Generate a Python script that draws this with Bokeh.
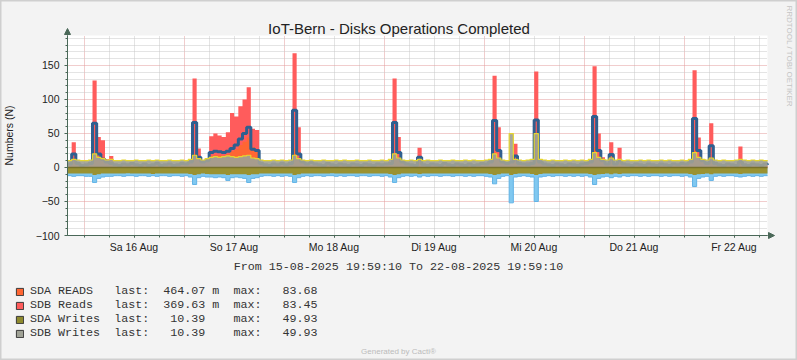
from bokeh.plotting import figure
from bokeh.models import (Range1d, FixedTicker, Label, Legend, LegendItem, Grid, LinearAxis,
                          Arrow, NormalHead, ColumnDataSource, BoxAnnotation)
from bokeh.embed import file_html
from bokeh.resources import INLINE
import math

TITLE = "IoT-Bern - Disks Operations Completed"
Y_LABEL = "Numbers (N)"
PERIOD_TEXT = "From 15-08-2025 19:59:10 To 22-08-2025 19:59:10"
FOOTER = "Generated by Cacti\u00ae"
SIDE_TEXT = "RRDTOOL / TOBI OETIKER"
DAY_LABELS = ["Sa 16 Aug", "So 17 Aug", "Mo 18 Aug", "Di 19 Aug", "Mi 20 Aug", "Do 21 Aug", "Fr 22 Aug"]
FIRST_MIDNIGHT_S = 4 * 3600 + 50       # 16-08-2025 00:00:00 after start 15-08-2025 19:59:10
SPAN_S = 7 * 24 * 3600
Y_TICKS = [-100, -50, 0, 50, 100, 150]
Y_MIN, Y_MAX = -100, 194.1

LEGEND_ROWS = [
    "SDA READS   last:  464.07 m  max:   83.68",
    "SDB Reads   last:  369.63 m  max:   83.45",
    "SDA Writes  last:   10.39    max:   49.93",
    "SDB Writes  last:   10.39    max:   49.93",
]
LEGEND_COLORS = ["#FF6633", "#FF5C5C", "#8E8A2E", "#A0A296"]

# hourly samples, hour 0 = 15-08-2025 19:59:10
SAMPLE_HOURS = list(range(169))

READS_ALL = [  # red area top (stacked reads)
    4, 37, 6, 3, 4, 8, 128, 45, 40, 12, 17, 5,
    3, 4, 3, 5, 3, 3, 4, 3, 3, 4, 3, 3,
    4, 3, 3, 4, 6, 12, 131, 28, 10, 14, 46, 50,
    47, 45, 52, 80, 75, 90, 100, 118, 57, 55, 6, 4,
    3, 4, 3, 5, 4, 8, 168, 59, 10, 5, 4, 6,
    4, 3, 4, 3, 3, 4, 3, 3, 4, 3, 3, 4,
    3, 3, 4, 3, 5, 9, 131, 45, 9, 5, 4, 3,
    29, 4, 3, 4, 3, 3, 4, 3, 3, 4, 3, 3,
    4, 3, 3, 4, 5, 8, 135, 59, 10, 6, 10, 35,
    8, 5, 8, 9, 141, 10, 5, 4, 3, 4, 3, 3,
    4, 3, 3, 4, 5, 9, 149, 50, 15, 5, 37, 6,
    29, 5, 4, 3, 4, 3, 3, 4, 3, 3, 4, 3,
    3, 4, 3, 5, 6, 10, 143, 44, 10, 6, 65, 8,
    4, 3, 4, 3, 4, 31, 5, 3, 4, 3, 4, 3, 4,
]
READS_SDA = [  # orange area top
    2, 8, 2, 1, 2, 3, 22, 10, 8, 3, 4, 2,
    1, 2, 1, 2, 1, 1, 2, 1, 1, 2, 1, 1,
    2, 1, 1, 2, 2, 4, 20, 8, 3, 5, 16, 18,
    18, 17, 20, 24, 27, 33, 38, 44, 30, 25, 2, 2,
    1, 2, 1, 2, 2, 3, 28, 10, 3, 2, 2, 2,
    2, 1, 2, 1, 1, 2, 1, 1, 2, 1, 1, 2,
    1, 1, 2, 1, 2, 3, 20, 9, 3, 2, 2, 1,
    6, 2, 1, 2, 1, 1, 2, 1, 1, 2, 1, 1,
    2, 1, 1, 2, 2, 3, 22, 10, 3, 2, 3, 6,
    3, 2, 2, 3, 20, 3, 2, 2, 1, 2, 1, 1,
    2, 1, 1, 2, 2, 3, 30, 12, 4, 2, 8, 2,
    6, 2, 2, 1, 2, 1, 1, 2, 1, 1, 2, 1,
    1, 2, 1, 2, 2, 3, 25, 10, 3, 2, 10, 3,
    2, 1, 2, 1, 2, 6, 2, 1, 2, 1, 2, 1, 2,
]
READS_LINE = [  # dark blue line
    5, 20, 6, 3, 4, 6, 65, 20, 12, 8, 6, 4,
    3, 5, 4, 6, 4, 3, 5, 3, 4, 6, 3, 4,
    5, 3, 4, 6, 5, 8, 66, 15, 8, 10, 22, 24,
    23, 22, 24, 28, 33, 42, 50, 59, 27, 25, 6, 4,
    3, 5, 4, 6, 4, 6, 84, 20, 8, 5, 7, 5,
    4, 3, 6, 4, 3, 5, 4, 3, 5, 4, 3, 5,
    4, 3, 5, 4, 5, 6, 66, 22, 8, 5, 4, 3,
    15, 4, 3, 5, 4, 3, 6, 4, 3, 5, 4, 3,
    5, 3, 4, 6, 5, 8, 69, 25, 8, 6, 8, 17,
    6, 5, 4, 6, 70, 8, 5, 4, 3, 5, 4, 3,
    5, 4, 3, 5, 6, 8, 75, 25, 10, 5, 19, 5,
    10, 5, 4, 3, 5, 4, 3, 5, 4, 3, 5, 4,
    3, 5, 4, 6, 5, 8, 72, 25, 10, 6, 32, 6,
    4, 3, 5, 4, 3, 8, 4, 3, 5, 4, 3, 5, 4,
]
WRITES = [  # grey area top / yellow line
    10, 12, 11, 10, 10, 11, 20, 15, 13, 11, 12, 10,
    10, 11, 10, 10, 11, 10, 10, 11, 10, 11, 10, 10,
    11, 10, 10, 11, 10, 12, 18, 13, 11, 13, 15, 16,
    15, 16, 17, 16, 15, 16, 17, 18, 14, 13, 11, 10,
    10, 11, 10, 11, 10, 11, 18, 13, 11, 10, 11, 10,
    10, 11, 10, 10, 11, 10, 11, 10, 10, 11, 10, 10,
    11, 10, 10, 11, 10, 12, 20, 14, 11, 10, 11, 10,
    12, 10, 11, 10, 10, 11, 10, 10, 11, 10, 10, 11,
    10, 11, 10, 10, 11, 12, 20, 14, 11, 10, 49.93, 12,
    11, 10, 11, 12, 49.93, 12, 11, 10, 11, 10, 10, 11,
    10, 11, 10, 11, 10, 12, 22, 15, 12, 11, 14, 11,
    12, 10, 11, 10, 10, 11, 10, 11, 10, 10, 11, 10,
    11, 10, 10, 11, 10, 12, 22, 15, 12, 11, 14, 11,
    10, 11, 10, 10, 11, 12, 11, 10, 11, 10, 11, 10, 10.39,
]
WRITES_NEG = [  # olive area (negative)
    -9, -9, -9, -9, -9, -9, -11, -10, -9, -9, -9, -9,
    -9, -9, -8.5, -9, -9, -9, -9, -9, -9.5, -9, -9, -9,
    -9, -9, -9, -9, -9, -9.5, -11, -10, -9, -9.5, -10, -10,
    -10, -10, -11, -10, -10, -10, -10, -11, -10, -10, -9, -9,
    -9, -9, -9, -9, -9, -9, -11, -10, -9, -9, -9, -9,
    -9, -9, -9, -8.5, -9, -9, -9, -9, -9, -9, -9, -9,
    -9, -9, -9, -9, -9, -9.5, -11, -10, -9, -9, -9, -9,
    -9.5, -9, -9, -9, -9, -9, -9, -9, -9, -9, -9, -9,
    -9, -9, -9, -9, -9, -9.5, -11, -10, -9, -9, -11, -9.5,
    -9, -9, -9, -9.5, -11, -9.5, -9, -9, -9, -9, -9, -9,
    -9, -9, -9, -9, -9, -9.5, -11, -10, -9.5, -9, -10, -9,
    -9.5, -9, -9, -9, -9, -9, -9, -9, -9, -9, -9, -9,
    -9, -9, -9, -9, -9, -9.5, -11, -10, -9.5, -9, -10, -9,
    -9, -9, -9, -9, -9, -9.5, -9, -9, -9, -9, -9, -9, -9,
]
WRITES_NEG_TOTAL = [  # light blue area (negative)
    -12, -13, -12, -12, -13, -13, -22, -16, -14, -13, -13, -12,
    -12, -13, -12, -12, -13, -12, -12, -13, -12, -13, -12, -12,
    -13, -12, -12, -13, -12, -14, -25, -15, -13, -14, -14, -15,
    -14, -15, -19, -15, -14, -15, -16, -22, -16, -15, -13, -12,
    -12, -13, -12, -13, -12, -13, -22, -15, -13, -12, -13, -12,
    -12, -13, -12, -12, -13, -12, -13, -12, -12, -13, -12, -12,
    -13, -12, -12, -13, -12, -14, -22, -15, -13, -12, -13, -12,
    -14, -12, -13, -12, -12, -13, -12, -12, -13, -12, -12, -13,
    -12, -13, -12, -12, -13, -14, -24, -16, -13, -12, -52, -14,
    -13, -12, -13, -14, -50, -14, -13, -12, -13, -12, -12, -13,
    -12, -13, -12, -13, -12, -14, -25, -16, -14, -13, -15, -13,
    -14, -12, -13, -12, -12, -13, -12, -13, -12, -12, -13, -12,
    -13, -12, -12, -13, -12, -14, -28, -16, -14, -13, -19, -13,
    -12, -13, -12, -12, -13, -14, -13, -12, -13, -12, -13, -12, -12,
]

# ---------------------------------------------------------------- layout / styling
W, H = 797, 360
PLOT_L, PLOT_R, PLOT_T, PLOT_B = 67, 767, 35, 235
AXIS_COLOR = "#4A6858"
TEXT_COLOR = "#222222"
MAJOR_GRID = "#E39A9A"
MINOR_GRID = "#C9C9C9"
SANS = "Liberation Sans"
MONO = "Liberation Mono"

px_per_sec = (PLOT_R - PLOT_L) / SPAN_S
px_per_unit = (PLOT_B - PLOT_T) / (Y_MAX - Y_MIN)
x_range = Range1d(-PLOT_L / px_per_sec, SPAN_S + (W - PLOT_R) / px_per_sec)
y_range = Range1d(Y_MIN - (H - PLOT_B) / px_per_unit, Y_MAX + PLOT_T / px_per_unit)

x_sec = [h * 3600 for h in SAMPLE_HOURS]
src = ColumnDataSource(dict(x=x_sec, zero=[0] * len(x_sec), reads_all=READS_ALL,
                            reads_sda=READS_SDA, reads_line=READS_LINE, writes=WRITES,
                            neg=WRITES_NEG, neg_total=WRITES_NEG_TOTAL))

p = figure(width=W, height=H, output_backend="svg", toolbar_location=None,
           x_range=x_range, y_range=y_range, x_axis_location=None, y_axis_location=None,
           min_border=0)
p.center = [r for r in p.center if not isinstance(r, Grid)]
p.background_fill_color = "#F3F3F3"
p.border_fill_color = "#F3F3F3"
p.outline_line_color = "#CFCFCF"
p.outline_line_width = 2

# white canvas of the graph
p.add_layout(BoxAnnotation(left=0, right=SPAN_S, bottom=Y_MIN, top=Y_MAX, fill_color="white",
                           fill_alpha=1, line_color=None, level="image"))

# ticks & grid
midnights = [FIRST_MIDNIGHT_S + d * 86400 for d in range(len(DAY_LABELS))]
noons = [m + 43200 for m in midnights]
six_hours = [FIRST_MIDNIGHT_S + k * 21600 for k in range(28)]
six_minor = [t for t in six_hours if t not in midnights]
y_all = list(range(-100, 200, 10))
y_minor = [v for v in y_all if v not in Y_TICKS]

xgrid = Grid(dimension=0, ticker=FixedTicker(ticks=midnights, minor_ticks=six_minor))
ygrid = Grid(dimension=1, ticker=FixedTicker(ticks=Y_TICKS, minor_ticks=y_minor))
for g in (xgrid, ygrid):
    g.grid_line_color = MAJOR_GRID
    g.grid_line_dash = "1 1"
    g.minor_grid_line_color = MINOR_GRID
    g.minor_grid_line_dash = "1 1"
try:
    xgrid.cross_bounds = (Y_MIN, Y_MAX)
    ygrid.cross_bounds = (0, SPAN_S)
    xgrid.bounds = (0, SPAN_S)
    ygrid.bounds = (Y_MIN, Y_MAX)
    p.add_layout(xgrid)
    p.add_layout(ygrid)
except AttributeError:
    p.segment(x0=six_minor, x1=six_minor, y0=Y_MIN, y1=Y_MAX, line_color=MINOR_GRID, line_dash="1 1")
    p.segment(x0=0, x1=SPAN_S, y0=y_minor, y1=y_minor, line_color=MINOR_GRID, line_dash="1 1")
    p.segment(x0=midnights, x1=midnights, y0=Y_MIN, y1=Y_MAX, line_color=MAJOR_GRID, line_dash="1 1")
    p.segment(x0=0, x1=SPAN_S, y0=Y_TICKS, y1=Y_TICKS, line_color=MAJOR_GRID, line_dash="1 1")

# areas / lines
p.varea_step(x="x", y1="zero", y2="neg_total", source=src, step_mode="after", fill_color="#80C8F0")
p.step(x="x", y="neg_total", source=src, mode="after", line_color="#62B3E6", line_width=1)
p.varea_step(x="x", y1="zero", y2="neg", source=src, step_mode="after", fill_color="#9A9232")
p.varea_step(x="x", y1="zero", y2="reads_all", source=src, step_mode="after", fill_color="#FF5C5C")
p.varea_step(x="x", y1="zero", y2="reads_sda", source=src, step_mode="after", fill_color="#FF6633")
p.step(x="x", y="reads_line", source=src, mode="after", line_color="#2F5F8F", line_width=3)
p.varea_step(x="x", y1="zero", y2="writes", source=src, step_mode="after",
             fill_color="#A0A195", fill_alpha=0.92)
p.step(x="x", y="writes", source=src, mode="after", line_color="#E6D630", line_width=1.2)
p.step(x="x", y="zero", source=src, mode="after", line_color="#77702C", line_width=1.5)

# axes (fixed at the graph's edges)
yax = LinearAxis(fixed_location=0, bounds=(Y_MIN, Y_MAX),
                 ticker=FixedTicker(ticks=Y_TICKS, minor_ticks=y_all))
xax = LinearAxis(fixed_location=Y_MIN, bounds=(0, SPAN_S),
                 ticker=FixedTicker(ticks=noons, minor_ticks=six_hours),
                 major_label_overrides={n: lab for n, lab in zip(noons, DAY_LABELS)})
for ax in (xax, yax):
    ax.axis_line_color = AXIS_COLOR
    ax.major_tick_line_color = AXIS_COLOR
    ax.minor_tick_line_color = AXIS_COLOR
    ax.major_tick_in = 0
    ax.minor_tick_in = 0
    ax.major_label_text_font = SANS
    ax.major_label_text_font_size = "10.5px"
    ax.major_label_text_color = TEXT_COLOR
xax.major_tick_out = 2
xax.minor_tick_out = 2
xax.major_label_standoff = 3
yax.major_tick_out = 3
yax.minor_tick_out = 2
yax.major_label_standoff = 5
yax.axis_label = Y_LABEL
yax.axis_label_text_font = SANS
yax.axis_label_text_font_size = "10.5px"
yax.axis_label_text_font_style = "normal"
yax.axis_label_text_color = TEXT_COLOR
yax.axis_label_standoff = 18
p.add_layout(yax, "left")
p.add_layout(xax, "below")

# axis arrows
p.add_layout(Arrow(end=NormalHead(size=6, fill_color=AXIS_COLOR, line_color=AXIS_COLOR, line_width=1),
                   x_start=0, y_start=Y_MAX, x_end=0, y_end=Y_MAX + 7 / px_per_unit,
                   line_color=AXIS_COLOR, line_width=1))
p.add_layout(Arrow(end=NormalHead(size=6, fill_color=AXIS_COLOR, line_color=AXIS_COLOR, line_width=1),
                   x_start=SPAN_S, y_start=Y_MIN, x_end=SPAN_S + 7 / px_per_sec, y_end=Y_MIN,
                   line_color=AXIS_COLOR, line_width=1))

# legend (swatch-only renderers without visible data)
nan = float("nan")
items = []
for text, col in zip(LEGEND_ROWS, LEGEND_COLORS):
    r = p.quad(left=[nan], right=[nan], top=[nan], bottom=[nan],
               fill_color=col, line_color="#3A3A3A", line_width=1)
    items.append(LegendItem(label=text, renderers=[r], index=0))
legend = Legend(items=items, location=(15, 20), padding=0, margin=0, spacing=0,
                glyph_width=9, glyph_height=9, label_height=14, label_standoff=6,
                border_line_color=None, background_fill_alpha=0,
                label_text_font=MONO, label_text_font_size="11.7px", label_text_color="#333333")
p.add_layout(legend)

# texts (screen units from the canvas' bottom-left)
def lab(text, x, y, font, size, color, align="center", baseline="alphabetic", angle=0):
    p.add_layout(Label(x=x, y=y, x_units="screen", y_units="screen", text=text,
                       text_font=font, text_font_size=size, text_color=color,
                       text_align=align, text_baseline=baseline, angle=angle))

lab(TITLE, 398.5, H - 28.3, SANS, "15px", TEXT_COLOR)
lab(PERIOD_TEXT, 398, H - 266.7, MONO, "11.7px", "#333333")
lab(FOOTER, 398, H - 351, SANS, "8px", "#BBBBBB")
lab(SIDE_TEXT, 789, H - 5, SANS, "8px", "#C4C4C4", align="left", baseline="middle", angle=-math.pi / 2)

open("out.html", "w").write(file_html(p, INLINE))
